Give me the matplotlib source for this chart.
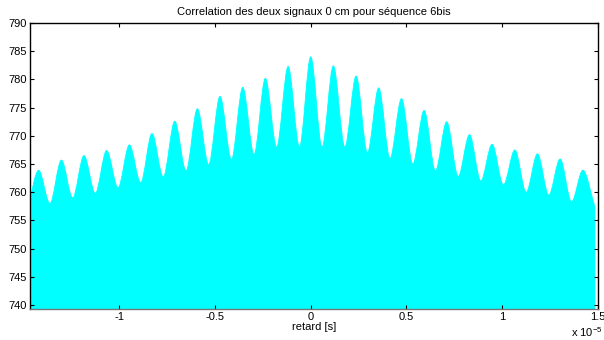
import matplotlib
matplotlib.use("Agg")
import matplotlib.pyplot as plt
from matplotlib.path import Path
from matplotlib.patches import PathPatch
from matplotlib.ticker import FuncFormatter

# lag positions in units of 1e-5 s : left edge, then peak/trough alternating, right edge
lag = [-1.476,
       -1.421, -1.362, -1.302, -1.243, -1.184, -1.125, -1.066, -1.006,
       -0.947, -0.888, -0.829, -0.770, -0.710, -0.651, -0.592, -0.533,
       -0.474, -0.414, -0.355, -0.296, -0.237, -0.178, -0.118, -0.059,
       0.0,
       0.059, 0.118, 0.178, 0.237, 0.296, 0.355, 0.414, 0.474,
       0.533, 0.592, 0.651, 0.710, 0.770, 0.829, 0.888, 0.947,
       1.006, 1.066, 1.125, 1.184, 1.243, 1.302, 1.362, 1.421,
       1.484]

corr = [757.4,
        763.9, 758.0, 765.7, 759.0, 766.5, 759.8, 767.4, 760.8,
        768.4, 761.7, 770.4, 762.7, 772.6, 763.8, 774.8, 764.9,
        777.0, 765.8, 778.6, 766.7, 780.2, 768.0, 782.3, 768.0,
        784.0,
        768.0, 782.4, 768.0, 780.6, 767.0, 778.5, 766.0, 776.6,
        765.0, 774.5, 763.8, 772.5, 762.8, 770.2, 762.0, 768.5,
        761.3, 767.5, 760.0, 766.8, 759.5, 765.9, 758.3, 763.9,
        757.4]

xticks = [-1, -0.5, 0, 0.5, 1, 1.5]
yticks = [740, 745, 750, 755, 760, 765, 770, 775, 780, 785, 790]

plt.rcParams['font.family'] = 'Liberation Sans'
plt.rcParams['font.size'] = 8
plt.rcParams['mathtext.fontset'] = 'custom'
plt.rcParams['mathtext.rm'] = 'Liberation Sans'
plt.rcParams['mathtext.default'] = 'regular'

fig = plt.figure(figsize=(6.04, 3.40), dpi=100)
ax = fig.add_axes([30/604, 1 - 309/340, 568/604, 286/340])

# smooth envelope through the extrema (cubic Bezier, flat at peaks/troughs)
base = 700
verts = [(lag[0], base), (lag[0], corr[0])]
codes = [Path.MOVETO, Path.LINETO]
n = len(lag)
for i in range(n - 1):
    x0, y0 = lag[i], corr[i]
    x1, y1 = lag[i + 1], corr[i + 1]
    d = x1 - x0
    c0 = (x0 + d/3, y0) if i > 0 else (x0 + d/3, y0 + (y1 - y0)/3)
    c1 = (x1 - d/3, y1) if i < n - 2 else (x1 - d/3, y1 - (y1 - y0)/3)
    verts += [c0, c1, (x1, y1)]
    codes += [Path.CURVE4] * 3
verts += [(lag[-1], base), (lag[0], base)]
codes += [Path.LINETO, Path.CLOSEPOLY]
ax.add_patch(PathPatch(Path(verts, codes), facecolor='#00FFFF', edgecolor='#00FFFF', linewidth=0.6))

ax.set_xlim(-1.466, 1.5)
ax.set_ylim(739.3, 790)
ax.set_xticks(xticks)
ax.set_yticks(yticks)
ax.xaxis.set_major_formatter(FuncFormatter(lambda v, p: f"{v:g}"))
ax.tick_params(direction='in', length=3, width=0.8, top=True, right=True, pad=2)
for s in ax.spines.values():
    s.set_linewidth(1.0)
    s.set_color('black')
ax.spines['bottom'].set_color('#777777')

ax.set_title("Correlation des deux signaux 0 cm pour séquence 6bis", fontsize=8, pad=6)
ax.set_xlabel("retard [s]", labelpad=0.5)
fig.text(571/604, 3/340, "x 10$^{-5}$", fontsize=8, ha='left', va='baseline')

fig.savefig("out.png", dpi=100)
